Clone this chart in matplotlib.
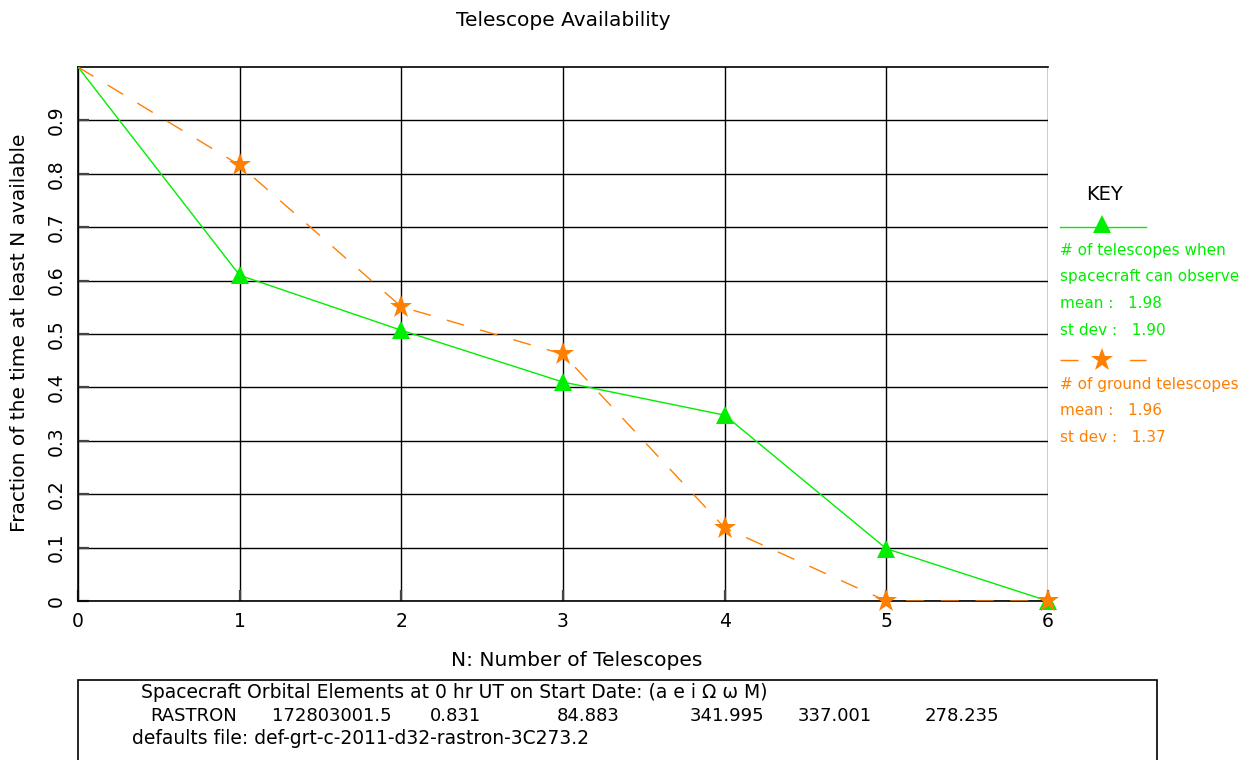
import matplotlib.pyplot as plt
from matplotlib.lines import Line2D
from matplotlib.patches import Rectangle

# data
n_tel = [0, 1, 2, 3, 4, 5, 6]
frac_space = [1.0, 0.61, 0.507, 0.41, 0.348, 0.098, 0.0]
frac_ground = [1.0, 0.816, 0.551, 0.462, 0.137, 0.0, 0.0]

ytick_vals = [0, 0.1, 0.2, 0.3, 0.4, 0.5, 0.6, 0.7, 0.8, 0.9]
ytick_labels = ["0", "0.1", "0.2", "0.3", "0.4", "0.5", "0.6", "0.7", "0.8", "0.9"]

space_stats = ["# of telescopes when", "spacecraft can observe",
               "mean :   1.98", "st dev :   1.90"]
ground_stats = ["# of ground telescopes", "mean :   1.96", "st dev :   1.37"]

orbit_header = "Spacecraft Orbital Elements at 0 hr UT on Start Date: (a e i \u03a9 \u03c9 M)"
orbit_values = ["RASTRON", "172803001.5", "0.831", "84.883", "341.995", "337.001", "278.235"]
defaults_file = "defaults file: def-grt-c-2011-d32-rastron-3C273.2"

GREEN = "#00ee00"
ORANGE = "#ff7f00"

W, H = 1259, 760
fig = plt.figure(figsize=(W / 100, H / 100), dpi=100)
plt.rcParams['font.family'] = ['DejaVu Sans']


def fx(px):
    return px / W


def fy(py):
    return 1 - py / H


ax = fig.add_axes([fx(78), fy(601), fx(1048) - fx(78), fy(67) - fy(601)])

ax.plot(n_tel, frac_space, color=GREEN, lw=1.0, zorder=3)
ax.plot(n_tel[1:], frac_space[1:], ls="none", marker="^", ms=13, color=GREEN,
        markeredgewidth=0, zorder=4, clip_on=False)
ax.plot(n_tel, frac_ground, color=ORANGE, lw=1.0, dashes=(13, 12), zorder=3)
ax.plot(n_tel[1:], frac_ground[1:], ls="none", marker="*", ms=17, color=ORANGE,
        markeredgewidth=0, zorder=5, clip_on=False)

ax.set_xlim(0, 6)
ax.set_ylim(0, 1)
ax.set_xticks(n_tel)
ax.set_xticklabels([str(n) for n in n_tel], fontsize=13.5)
ax.set_yticks(ytick_vals)
ax.set_yticklabels(ytick_labels, fontsize=13.5, rotation=90, va="center")
ax.grid(True, color="black", lw=1.0)
ax.tick_params(direction="in", length=8, width=1.6, color="#444444")
ax.tick_params(axis="x", pad=8)
ax.tick_params(axis="y", pad=9)
for s in ax.spines.values():
    s.set_linewidth(1.2)
ax.spines["right"].set_visible(False)

fig.text(fx(563), fy(20), "Telescope Availability", ha="center", va="center", fontsize=14.5)
fig.text(fx(577), fy(660), "N: Number of Telescopes", ha="center", va="center", fontsize=14.5)
fig.text(fx(20), fy(333), "Fraction of the time at least N available", ha="center",
         va="center", rotation=90, fontsize=14.5)

# key
fig.text(fx(1104), fy(194), "KEY", ha="center", va="center", fontsize=14)
fig.add_artist(Line2D([fx(1060), fx(1146)], [fy(227), fy(227)], color=GREEN, lw=1.0))
fig.add_artist(Line2D([fx(1102)], [fy(224)], marker="^", ms=13, color=GREEN,
                      markeredgewidth=0, ls="none"))
for i, t in enumerate(space_stats):
    fig.text(fx(1060), fy(250 + i * 26.7), t, color=GREEN, va="center", fontsize=11)
fig.add_artist(Line2D([fx(1060), fx(1146)], [fy(360), fy(360)], color=ORANGE, lw=1.0,
                      dashes=(13, 37)))
fig.add_artist(Line2D([fx(1102)], [fy(360)], marker="*", ms=17, color=ORANGE,
                      markeredgewidth=0, ls="none"))
for i, t in enumerate(ground_stats):
    fig.text(fx(1060), fy(384 + i * 26.7), t, color=ORANGE, va="center", fontsize=11)

# orbital elements box
fig.add_artist(Rectangle((fx(78), fy(790)), fx(1157) - fx(78), fy(680) - fy(790),
                         fill=False, edgecolor="black", lw=1.2))
fig.text(fx(141), fy(693), orbit_header, va="center", fontsize=13.5)
col_x = [150, 272, 430, 557, 690, 798, 925]
for x, v in zip(col_x, orbit_values):
    fig.text(fx(x), fy(716), v, va="center", fontsize=13)
fig.text(fx(132), fy(739), defaults_file, va="center", fontsize=13.5)

fig.savefig("out.png", dpi=100)
